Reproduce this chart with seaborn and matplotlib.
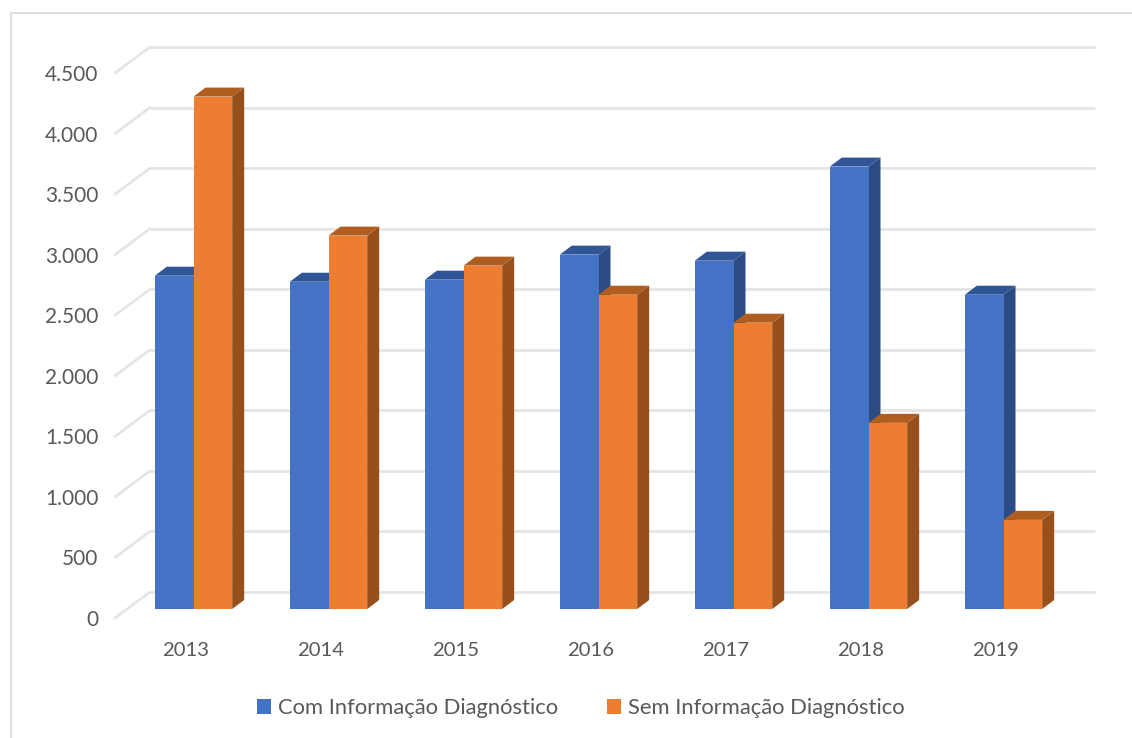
import matplotlib
matplotlib.use("Agg")
import matplotlib.pyplot as plt
import pandas as pd
import seaborn as sns
from matplotlib.lines import Line2D
from matplotlib.patches import Polygon
from matplotlib.transforms import Affine2D, IdentityTransform

years = ["2013", "2014", "2015", "2016", "2017", "2018", "2019"]
com_info = [2752, 2702, 2719, 2926, 2876, 3653, 2595]
sem_info = [4231, 3083, 2835, 2595, 2364, 1537, 736]
series_names = ["Com Informação Diagnóstico", "Sem Informação Diagnóstico"]
y_ticks = [0, 500, 1000, 1500, 2000, 2500, 3000, 3500, 4000, 4500]
y_tick_labels = ["0", "500", "1.000", "1.500", "2.000", "2.500", "3.000", "3.500", "4.000", "4.500"]

FRONT = ["#4472C4", "#ED7D31"]
SIDE = ["#2B4B84", "#97501C"]
TOP = ["#2F5597", "#B05E1F"]
GRID = "#E4E4E4"
TEXT = "#595959"

W, H = 1132, 738
sns.set_theme(style="white")
plt.rcParams["font.family"] = ["Lato", "DejaVu Sans"]

fig = plt.figure(figsize=(W / 100, H / 100), dpi=100, facecolor="white")
ax = fig.add_axes([115 / W, (H - 618) / H, 945 / W, 545 / H])

df = pd.DataFrame({
    "year": years * 2,
    "value": com_info + sem_info,
    "series": [series_names[0]] * len(years) + [series_names[1]] * len(years),
})
sns.barplot(data=df, x="year", y="value", hue="series", hue_order=series_names,
            palette=FRONT, width=0.573, gap=0, saturation=1, ax=ax, linewidth=0)

ax.set_xlim(-0.5, 6.5)
ax.set_ylim(0, 4500)
ax.set_xlabel("")
ax.set_ylabel("")
for s in ax.spines.values():
    s.set_visible(False)

# Wall and floor: gridlines on the back plane, diagonals back to the front plane
back = ax.transData + Affine2D().translate(35, 26)
for v in y_ticks:
    ax.plot([-0.5, 6.5], [v, v], color=GRID, lw=1.9, transform=back, clip_on=False,
            zorder=0.5, solid_capstyle="butt")
    x0, y0 = ax.transData.transform((-0.5, v))
    ax.add_line(Line2D([x0, x0 + 35], [y0, y0 + 26], color=GRID, lw=1.9,
                       transform=IdentityTransform(), clip_on=False, zorder=0.5))

# Bars: front faces come from seaborn, extruded along the depth direction
shift = Affine2D().translate(11, 9)
dx, dy = 12, 9
bars = [c for c in ax.containers]
for s, cont in enumerate(bars):
    for i, p in enumerate(cont.patches):
        z = 2 + i + s * 0.5
        p.set_transform(ax.transData + shift)
        p.set_zorder(z + 0.2)
        p.set_clip_on(False)
        bb = p.get_bbox()
        (xl, yb) = (ax.transData + shift).transform((bb.x0, bb.y0))
        (xr, yt) = (ax.transData + shift).transform((bb.x1, bb.y1))
        ax.add_patch(Polygon([(xr, yb), (xr + dx, yb + dy), (xr + dx, yt + dy), (xr, yt)],
                             closed=True, fc=SIDE[s], ec="none", transform=IdentityTransform(),
                             clip_on=False, zorder=z))
        ax.add_patch(Polygon([(xl, yt), (xr, yt), (xr + dx, yt + dy), (xl + dx, yt + dy)],
                             closed=True, fc=TOP[s], ec="none", transform=IdentityTransform(),
                             clip_on=False, zorder=z + 0.1))

ax.set_yticks(y_ticks)
ax.set_yticklabels(y_tick_labels)
ax.tick_params(axis="y", length=0, pad=12, labelsize=15, labelcolor=TEXT)
ax.tick_params(axis="x", length=0, pad=17, labelsize=14.6, labelcolor=TEXT)
for lab in ax.get_xticklabels():
    lab.set_transform(lab.get_transform() + Affine2D().translate(3.4, 0))

handles, labels = ax.get_legend_handles_labels()
ax.legend(handles, labels, ncols=2, frameon=False, fontsize=15.8, labelcolor=TEXT,
          handlelength=0.64, handleheight=0.64, handletextpad=0.3, columnspacing=2.25,
          loc="center", bbox_to_anchor=(581 / W, (H - 708) / H),
          bbox_transform=fig.transFigure, borderpad=0)

# Chart frame
for xs, ys in [((11, W), (12.5, 12.5)), ((11, 11), (12.5, H))]:
    fig.add_artist(Line2D([x / W for x in xs], [1 - y / H for y in ys], color="#DDDDDD", lw=1.4))

fig.savefig("out.png", dpi=100, facecolor="white")
